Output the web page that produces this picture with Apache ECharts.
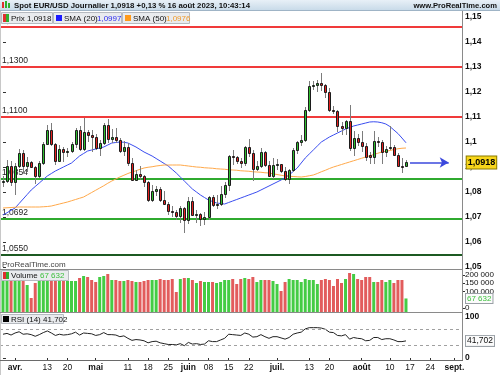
<!DOCTYPE html>
<html><head><meta charset="utf-8">
<script src="https://cdn.jsdelivr.net/npm/echarts@6/dist/echarts.min.js"></script>
<style>html,body{margin:0;padding:0;background:#fff}#c{width:500px;height:375px}</style>
</head><body><div id="c"></div>
<script>
// ---------- DATA ----------
const dates = ['2023-03-29','2023-03-30','2023-03-31','2023-04-03','2023-04-04','2023-04-05','2023-04-06','2023-04-07','2023-04-10','2023-04-11','2023-04-12','2023-04-13','2023-04-14','2023-04-17','2023-04-18','2023-04-19','2023-04-20','2023-04-21','2023-04-24','2023-04-25','2023-04-26','2023-04-27','2023-04-28','2023-05-01','2023-05-02','2023-05-03','2023-05-04','2023-05-05','2023-05-08','2023-05-09','2023-05-10','2023-05-11','2023-05-12','2023-05-15','2023-05-16','2023-05-17','2023-05-18','2023-05-19','2023-05-22','2023-05-23','2023-05-24','2023-05-25','2023-05-26','2023-05-29','2023-05-30','2023-05-31','2023-06-01','2023-06-02','2023-06-05','2023-06-06','2023-06-07','2023-06-08','2023-06-09','2023-06-12','2023-06-13','2023-06-14','2023-06-15','2023-06-16','2023-06-19','2023-06-20','2023-06-21','2023-06-22','2023-06-23','2023-06-26','2023-06-27','2023-06-28','2023-06-29','2023-06-30','2023-07-03','2023-07-04','2023-07-05','2023-07-06','2023-07-07','2023-07-10','2023-07-11','2023-07-12','2023-07-13','2023-07-14','2023-07-17','2023-07-18','2023-07-19','2023-07-20','2023-07-21','2023-07-24','2023-07-25','2023-07-26','2023-07-27','2023-07-28','2023-07-31','2023-08-01','2023-08-02','2023-08-03','2023-08-04','2023-08-07','2023-08-08','2023-08-09','2023-08-10','2023-08-11','2023-08-14','2023-08-15','2023-08-16','2023-08-17','2023-08-18','2023-08-21','2023-08-22','2023-08-23','2023-08-24','2023-08-25','2023-08-28','2023-08-29','2023-08-30','2023-08-31','2023-09-01','2023-09-04','2023-09-05'];

const opens = [1.0842,1.0846,1.0905,1.0839,1.0902,1.0955,1.0906,1.0921,1.0901,1.0862,1.0915,1.0993,1.1047,1.0992,1.0926,1.0973,1.0958,1.0963,1.0992,1.1047,1.0974,1.1040,1.1027,1.1019,1.0975,1.0996,1.1069,1.1014,1.1019,1.1007,1.0962,1.0979,1.0915,1.0850,1.0873,1.0862,1.0839,1.0770,1.0805,1.0812,1.0770,1.0751,1.0725,1.0721,1.0705,1.0737,1.0688,1.0762,1.0709,1.0712,1.0693,1.0698,1.0780,1.0749,1.0752,1.0792,1.0830,1.0944,1.0939,1.0924,1.0917,1.0980,1.0956,1.0894,1.0906,1.0960,1.0910,1.0866,1.0909,1.0911,1.0882,1.0853,1.0887,1.0968,1.0998,1.1010,1.1128,1.1226,1.1229,1.1238,1.1227,1.1200,1.1129,1.1124,1.1064,1.1055,1.1086,1.0975,1.1016,1.0998,1.0985,1.0950,1.0940,1.1005,1.1000,1.0958,1.0978,1.0980,1.0949,1.0906,1.0904];
const closes = [1.0846,1.0905,1.0839,1.0902,1.0955,1.0906,1.0921,1.0901,1.0862,1.0915,1.0993,1.1047,1.0992,1.0926,1.0973,1.0958,1.0963,1.0992,1.1047,1.0974,1.1040,1.1027,1.1019,1.0975,1.0996,1.1069,1.1014,1.1019,1.1007,1.0962,1.0979,1.0915,1.0850,1.0873,1.0862,1.0839,1.0770,1.0805,1.0812,1.0770,1.0751,1.0725,1.0721,1.0705,1.0737,1.0688,1.0762,1.0709,1.0712,1.0693,1.0698,1.0780,1.0749,1.0752,1.0792,1.0830,1.0944,1.0939,1.0924,1.0917,1.0980,1.0956,1.0894,1.0906,1.0960,1.0910,1.0866,1.0909,1.0911,1.0882,1.0853,1.0887,1.0968,1.0998,1.1010,1.1128,1.1226,1.1229,1.1238,1.1227,1.1200,1.1129,1.1124,1.1064,1.1055,1.1086,1.0975,1.1016,1.0998,1.0985,1.0938,1.0940,1.1005,1.1000,1.0958,1.0972,1.0980,1.0949,1.0906,1.0904,1.0918];
const lows = [1.0818,1.0836,1.0826,1.0788,1.0897,1.0877,1.0880,1.0895,1.0831,1.0857,1.0910,1.0990,1.0985,1.0910,1.0920,1.0920,1.0938,1.0955,1.0975,1.0965,1.0965,1.1000,1.0961,1.0967,1.0942,1.0990,1.0995,1.0995,1.0996,1.0957,1.0942,1.0906,1.0845,1.0846,1.0848,1.0820,1.0760,1.0760,1.0785,1.0760,1.0747,1.0708,1.0700,1.0687,1.0675,1.0635,1.0671,1.0705,1.0675,1.0666,1.0668,1.0690,1.0740,1.0732,1.0746,1.0776,1.0804,1.0910,1.0912,1.0897,1.0904,1.0941,1.0844,1.0886,1.0895,1.0898,1.0860,1.0853,1.0887,1.0876,1.0845,1.0833,1.0880,1.0952,1.0985,1.1000,1.1120,1.1210,1.1200,1.1205,1.1178,1.1120,1.1113,1.1040,1.1028,1.1028,1.0962,1.0945,1.0986,1.0960,1.0925,1.0912,1.0912,1.0980,1.0912,1.0940,1.0968,1.0942,1.0900,1.0877,1.0902];
const highs = [1.0866,1.0927,1.0925,1.0916,1.0973,1.0970,1.0940,1.0925,1.0905,1.0925,1.0998,1.1068,1.1075,1.0995,1.0990,1.0980,1.0975,1.1000,1.1055,1.1066,1.1095,1.1050,1.1050,1.1033,1.1010,1.1078,1.1092,1.1054,1.1055,1.1016,1.1005,1.0995,1.0935,1.0888,1.0903,1.0867,1.0845,1.0830,1.0826,1.0820,1.0803,1.0760,1.0744,1.0727,1.0746,1.0740,1.0779,1.0780,1.0728,1.0716,1.0718,1.0785,1.0788,1.0790,1.0823,1.0839,1.0950,1.0970,1.0945,1.0935,1.0985,1.1012,1.0970,1.0925,1.0976,1.0964,1.0925,1.0935,1.0934,1.0914,1.0899,1.0893,1.0976,1.1003,1.1027,1.1140,1.1245,1.1245,1.1249,1.1276,1.1232,1.1215,1.1146,1.1130,1.1079,1.1090,1.1149,1.1042,1.1033,1.1045,1.0995,1.0960,1.1042,1.1020,1.1007,1.0985,1.1065,1.0990,1.0955,1.0935,1.0928];

const volumes = [160000,165000,160000,170000,165000,160000,135000,70000,145000,155000,160000,160000,165000,155000,160000,160000,155000,155000,155000,170000,180000,175000,160000,150000,175000,180000,190000,160000,160000,155000,155000,160000,155000,150000,150000,155000,160000,160000,160000,165000,160000,160000,165000,100000,165000,170000,170000,160000,145000,155000,150000,150000,150000,145000,150000,160000,160000,165000,140000,165000,170000,165000,175000,150000,160000,160000,160000,155000,140000,105000,150000,165000,160000,160000,150000,165000,160000,160000,140000,160000,165000,160000,130000,165000,145000,165000,195000,190000,165000,160000,175000,175000,150000,150000,160000,150000,160000,145000,160000,160000,67632];

const sma20 = [1.0708,1.0717,1.0727,1.0736,1.0754,1.0772,1.0790,1.0808,1.0822,1.0836,1.0850,1.0864,1.0874,1.0884,1.0892,1.0900,1.0908,1.0916,1.0930,1.0944,1.0954,1.0964,1.0968,1.0972,1.0976,1.0980,1.0988,1.0996,1.0998,1.1000,1.0999,1.0996,1.0988,1.0980,1.0970,1.0960,1.0952,1.0944,1.0934,1.0924,1.0914,1.0904,1.0890,1.0876,1.0860,1.0844,1.0828,1.0812,1.0800,1.0788,1.0778,1.0768,1.0762,1.0756,1.0754,1.0752,1.0758,1.0764,1.0770,1.0776,1.0782,1.0788,1.0794,1.0800,1.0808,1.0816,1.0824,1.0832,1.0840,1.0848,1.0858,1.0868,1.0882,1.0896,1.0916,1.0936,1.0952,1.0968,1.0984,1.1000,1.1010,1.1020,1.1028,1.1036,1.1044,1.1052,1.1058,1.1064,1.1068,1.1072,1.1076,1.1080,1.1081,1.1080,1.1077,1.1072,1.1062,1.1048,1.1034,1.1016,1.0997];
const sma50 = [1.0736,1.0737,1.0738,1.0739,1.0740,1.0740,1.0740,1.0740,1.0740,1.0740,1.0741,1.0742,1.0744,1.0748,1.0752,1.0756,1.0760,1.0765,1.0770,1.0775,1.0780,1.0789,1.0798,1.0807,1.0816,1.0825,1.0835,1.0844,1.0852,1.0860,1.0867,1.0874,1.0880,1.0885,1.0891,1.0896,1.0899,1.0901,1.0904,1.0906,1.0908,1.0908,1.0908,1.0908,1.0908,1.0906,1.0904,1.0902,1.0900,1.0899,1.0897,1.0896,1.0895,1.0893,1.0892,1.0891,1.0889,1.0888,1.0887,1.0885,1.0884,1.0883,1.0881,1.0880,1.0879,1.0877,1.0876,1.0873,1.0870,1.0867,1.0864,1.0863,1.0862,1.0861,1.0860,1.0862,1.0865,1.0868,1.0874,1.0881,1.0887,1.0894,1.0900,1.0905,1.0910,1.0915,1.0920,1.0925,1.0930,1.0935,1.0940,1.0945,1.0950,1.0955,1.0960,1.0963,1.0966,1.0970,1.0973,1.0975,1.0976];
const rsi = [58,60,56,61,64,58,59,57,53,57,62,66,61,55,58,56,57,59,63,56,61,60,59,55,57,62,57,57,56,52,54,48,43,45,44,42,37,40,41,37,35,33,33,32,35,30,38,34,35,33,34,42,40,40,44,48,58,57,56,55,61,58,51,52,57,52,48,52,52,49,46,50,58,61,63,71,74,74,74,73,70,63,62,55,54,57,46,50,48,47,42,43,50,50,45,47,47,44,40,40,41.702];

const priceTicks = [1.05,1.06,1.07,1.08,1.09,1.10,1.11,1.12,1.13,1.14,1.15];
const volumeTicks = [0,100000,150000,200000];
const rsiTicks = [0,100];
const rsiLevels = [30,70];
const levelValues = [1.1460,1.1300,1.1100,1.0854,1.0692,1.0550];
const levelLabels = ['1,1460','1,1300','1,1100','1,0854','1,0692','1,0550'];
const tickDates = ['2023-04-03','2023-04-13','2023-04-20','2023-05-01','2023-05-11','2023-05-18','2023-05-25','2023-06-01','2023-06-08','2023-06-15','2023-06-22','2023-07-03','2023-07-13','2023-07-20','2023-08-01','2023-08-10','2023-08-17','2023-08-24','2023-09-01'];
const tickLabels = ['avr.','13','20','mai','11','18','25','juin','08','15','22','juil.','13','20','août','10','17','24','sept.'];
const monthNames = ['avr.','mai','juin','juil.','août','sept.'];
const lastPrice = 1.0918, lastSma20 = 1.0997, lastSma50 = 1.0976, lastVolume = 67632, lastRsi = 41.702;
const arrowFrom = '2023-08-17', arrowTo = '2023-08-30';

// ---------- BUILD ----------
const FONT = '"Liberation Sans", Arial, sans-serif';
const levelColors = ['#f03a3a','#f03a3a','#f03a3a','#2faa2f','#2faa2f','#1c5a22'];
const idxOf = d => dates.indexOf(d);
const candleData = closes.map((c, i) => [i, opens[i], c, lows[i], highs[i]]);
const xMin = -0.744, xMax = 113.9;
const tickIdx = tickDates.map(idxOf);

const volData = volumes.map((v, i) => ({
  value: [i, v],
  itemStyle: { color: closes[i] >= opens[i] ? '#44cc44' : '#e25c5c' }
}));

const fmtPrice = v => { let s = v.toFixed(2); if (s.endsWith('0')) s = s.slice(0, -1); return s.replace('.', ','); };
const fmtPrice4 = v => v.toFixed(4).replace('.', ',');
const fmtVol = v => Math.round(v) === 0 ? '0' : String(Math.round(v)).replace(/\B(?=(\d{3})+(?!\d))/g, ' ');
const HIDE = { color: 'rgba(0,0,0,0)', width: 0 };

function xAx(gi, show) {
  const a = { type: 'value', gridIndex: gi, min: xMin, max: xMax, show: !!show, splitLine: { show: false },
    axisLine: { show: false }, axisTick: { show: false }, axisLabel: { show: false } };
  if (show) {
    a.offset = 2;
    a.axisTick = { show: true, customValues: tickIdx, length: 3, lineStyle: { color: '#333' } };
    a.axisLabel = { show: true, customValues: tickIdx, margin: 3, fontSize: 8.5, color: '#111', fontFamily: FONT,
      formatter: v => { const k = tickIdx.indexOf(Math.round(v)); const t = tickLabels[k] || ''; return monthNames.includes(t) ? '{m|' + t + '}' : t; },
      rich: { m: { fontWeight: 'bold', fontSize: 8.5, color: '#111', fontFamily: FONT } } };
  }
  return a;
}

const option = {
  animation: false,
  backgroundColor: '#ffffff',
  grid: [
    { left: 0, right: 38, top: 10, height: 259 },
    { left: 0, right: 38, top: 269, height: 43 },
    { left: 0, right: 38, top: 317, height: 41 }
  ],
  xAxis: [xAx(0, false), xAx(1, false), xAx(2, true)],
  yAxis: [
    { type: 'value', gridIndex: 0, position: 'right', min: 1.0492, max: 1.1528, splitLine: { show: false },
      axisLine: { show: false },
      axisTick: { show: true, customValues: priceTicks, length: 3, lineStyle: { color: '#333' } },
      axisLabel: { customValues: priceTicks, formatter: fmtPrice, fontSize: 8.5, fontWeight: 'bold', color: '#111', margin: 3, fontFamily: FONT } },
    { type: 'value', gridIndex: 1, position: 'right', min: 0, max: 215000, show: false },
    { type: 'value', gridIndex: 2, position: 'right', min: 0, max: 100, splitLine: { show: false },
      axisLine: { show: false },
      axisTick: { show: true, customValues: rsiTicks, length: 3, lineStyle: { color: '#333' } },
      axisLabel: { customValues: rsiTicks, fontSize: 8.5, fontWeight: 'bold', color: '#111', margin: 3, fontFamily: FONT } },
    { type: 'value', gridIndex: 1, position: 'right', min: -24242, max: 236364, splitLine: { show: false },
      axisLine: { show: false },
      axisTick: { show: true, customValues: volumeTicks.map(v => v || 0.001), length: 3, lineStyle: { color: '#333' } },
      axisLabel: { customValues: volumeTicks.map(v => v || 0.001), formatter: fmtVol, fontSize: 8, color: '#111', margin: 3, fontFamily: FONT, hideOverlap: false } }
  ],
  series: [
    { type: 'custom', xAxisIndex: 0, yAxisIndex: 0, data: levelValues.map((v, k) => [0, v, k]), clip: false, z: 1, silent: true,
      renderItem: function (params, api) {
        const k = api.value(2), cs = params.coordSys;
        const yr = Math.round(api.coord([0, api.value(1)])[1]);
        const h = 2;
        return { type: 'group', children: [
          { type: 'rect', shape: { x: cs.x, y: yr - 1, width: cs.width, height: h }, style: { fill: levelColors[k], stroke: null, lineWidth: 0 } },
          { type: 'text', x: cs.x + 2, y: yr - 2, style: { text: levelLabels[k], font: '8.5px ' + FONT, fill: '#222', textVerticalAlign: 'bottom', verticalAlign: 'bottom' } }
        ] };
      } },
    { type: 'custom', xAxisIndex: 0, yAxisIndex: 0, data: candleData, clip: true, z: 3, silent: true,
      renderItem: function (params, api) {
        const i = api.value(0), o = api.value(1), c = api.value(2), l = api.value(3), h = api.value(4);
        const pO = api.coord([i, o]), pC = api.coord([i, c]), pL = api.coord([i, l]), pH = api.coord([i, h]);
        const cx = Math.round(pO[0]);
        const top = Math.round(Math.min(pO[1], pC[1])), bot = Math.round(Math.max(pO[1], pC[1]));
        const up = c >= o;
        return { type: 'group', children: [
          { type: 'line', shape: { x1: cx + 0.5, y1: Math.round(pH[1]), x2: cx + 0.5, y2: Math.round(pL[1]) }, style: { stroke: '#7c7c7c', lineWidth: 1 } },
          { type: 'rect', shape: { x: cx - 0.5, y: top + 0.5, width: 2, height: Math.max(bot - top, 1) }, style: { fill: up ? '#2fbd2f' : '#e42020', stroke: '#1c1c1c', lineWidth: 1 } }
        ] };
      } },
    { type: 'line', xAxisIndex: 0, yAxisIndex: 0, data: sma20.map((v, i) => [i, v]), symbol: 'none', silent: true, z: 2,
      lineStyle: { color: '#3a4df0', width: 1 } },
    { type: 'line', xAxisIndex: 0, yAxisIndex: 0, data: sma50.map((v, i) => [i, v]), symbol: 'none', silent: true, z: 2,
      lineStyle: { color: '#ffa94a', width: 1 },
      markLine: { silent: true, animation: false, symbol: ['none', 'arrow'], symbolSize: [8, 9], precision: 4,
        lineStyle: { color: '#3b48dd', width: 1.5, type: 'solid' },
        label: { show: true, position: 'end', distance: 18, formatter: fmtPrice4(lastPrice), fontSize: 9, fontWeight: 'bold',
          color: '#000', backgroundColor: '#f7d51b', borderColor: '#8a7a00', borderWidth: 1, padding: [2, 1, 1, 1], fontFamily: FONT },
        data: [[ { coord: [idxOf(arrowFrom), lastPrice] }, { coord: [idxOf(arrowTo) + 0.6, lastPrice] } ]] } },
    { type: 'bar', xAxisIndex: 1, yAxisIndex: 1, data: volData, barWidth: 3, silent: true,
      markLine: { silent: true, symbol: 'none', animation: false, precision: 0, lineStyle: HIDE,
        label: { show: true, position: 'end', distance: 4, formatter: fmtVol(lastVolume),
          color: '#3cbf3c', fontSize: 8, backgroundColor: '#fbfbfb', borderColor: '#9aa0a6', borderWidth: 1, padding: [1, 1, 0, 1], fontFamily: FONT },
        data: [{ yAxis: lastVolume }] } },
    { type: 'line', xAxisIndex: 2, yAxisIndex: 2, data: rsi.map((v, i) => [i, v]), symbol: 'none', silent: true,
      lineStyle: { color: '#222', width: 1 },
      markLine: { silent: true, symbol: 'none', animation: false, precision: 3,
        lineStyle: { color: '#a0a0a0', width: 1, type: [3, 3] }, label: { show: false },
        data: rsiLevels.map(v => ({ yAxis: v })) } },
    { type: 'line', xAxisIndex: 2, yAxisIndex: 2, data: [], symbol: 'none', silent: true, lineStyle: { width: 0 },
      markLine: { silent: true, symbol: 'none', animation: false, precision: 3, lineStyle: HIDE,
        label: { show: true, position: 'end', distance: 4, formatter: String(lastRsi).replace('.', ','), color: '#111', fontSize: 8.5,
          backgroundColor: '#fbfbfb', borderColor: '#9aa0a6', borderWidth: 1, padding: [1, 1, 0, 1], fontFamily: FONT },
        data: [{ yAxis: lastRsi }] } }
  ],
  graphic: [
    { type: 'rect', shape: { x: 0, y: 0, width: 500, height: 10 }, z: 50,
      style: { fill: new echarts.graphic.LinearGradient(0, 0, 0, 1, [{ offset: 0, color: '#e8f0f7' }, { offset: 1, color: '#c9dbe9' }]) } },
    { type: 'rect', shape: { x: 0, y: 10, width: 500, height: 1 }, style: { fill: '#9fb4c6' }, z: 50 },
    { type: 'rect', shape: { x: 2, y: 2, width: 2, height: 6 }, style: { fill: '#e03030' }, z: 51 },
    { type: 'rect', shape: { x: 5, y: 1, width: 2, height: 7 }, style: { fill: '#30b030' }, z: 51 },
    { type: 'rect', shape: { x: 8, y: 3, width: 2, height: 5 }, style: { fill: '#30b030' }, z: 51 },
    { type: 'text', x: 14, y: 5.5, z: 51, style: { text: 'Spot EUR/USD Journalier 1,0918 +0,13 % 16 août 2023, 10:43:14', font: 'bold 7.8px ' + FONT, fill: '#111', textVerticalAlign: 'middle', verticalAlign: 'middle' } },
    { type: 'text', x: 497, y: 5.5, z: 51, style: { text: 'www.ProRealTime.com', font: 'bold 7.6px ' + FONT, fill: '#111', textAlign: 'right', align: 'right', textVerticalAlign: 'middle', verticalAlign: 'middle' } },
    { type: 'rect', shape: { x: 462, y: 10, width: 1, height: 351 }, style: { fill: '#8a8a8a' }, z: 40 },
    { type: 'rect', shape: { x: 0, y: 10, width: 1, height: 365 }, style: { fill: '#c8c8c8' }, z: 40 },
    { type: 'rect', shape: { x: 0, y: 269, width: 463, height: 1 }, style: { fill: '#8a8a8a' }, z: 40 },
    { type: 'rect', shape: { x: 0, y: 312, width: 463, height: 1 }, style: { fill: '#8a8a8a' }, z: 40 },
    { type: 'rect', shape: { x: 0, y: 360, width: 463, height: 1 }, style: { fill: '#6a6a6a' }, z: 40 },
    { type: 'rect', shape: { x: 1.5, y: 12.5, width: 51, height: 11 }, style: { fill: '#e9ebee', stroke: '#b6bac0', lineWidth: 1 }, z: 60 },
    { type: 'rect', shape: { x: 3, y: 14, width: 3, height: 8 }, style: { fill: '#e03030' }, z: 61 },
    { type: 'rect', shape: { x: 6, y: 14, width: 3, height: 8 }, style: { fill: '#30b030' }, z: 61 },
    { type: 'text', x: 11, y: 18.5, z: 61, style: { text: 'Prix 1,0918', font: '8px ' + FONT, fill: '#111', textVerticalAlign: 'middle', verticalAlign: 'middle' } },
    { type: 'rect', shape: { x: 53.5, y: 12.5, width: 68, height: 11 }, style: { fill: '#e9ebee', stroke: '#b6bac0', lineWidth: 1 }, z: 60 },
    { type: 'rect', shape: { x: 56, y: 15, width: 6, height: 6 }, style: { fill: '#1a1aff' }, z: 61 },
    { type: 'text', x: 64, y: 18.5, z: 61, style: { text: 'SMA (20)', font: '8px ' + FONT, fill: '#111', textVerticalAlign: 'middle', verticalAlign: 'middle' } },
    { type: 'text', x: 97, y: 18.5, z: 61, style: { text: '1,0997', font: '8px ' + FONT, fill: '#2a2aee', textVerticalAlign: 'middle', verticalAlign: 'middle' } },
    { type: 'rect', shape: { x: 122.5, y: 12.5, width: 67, height: 11 }, style: { fill: '#e9ebee', stroke: '#b6bac0', lineWidth: 1 }, z: 60 },
    { type: 'rect', shape: { x: 125, y: 15, width: 6, height: 6 }, style: { fill: '#ff9a1a' }, z: 61 },
    { type: 'text', x: 133, y: 18.5, z: 61, style: { text: 'SMA (50)', font: '8px ' + FONT, fill: '#111', textVerticalAlign: 'middle', verticalAlign: 'middle' } },
    { type: 'text', x: 166, y: 18.5, z: 61, style: { text: '1,0976', font: '8px ' + FONT, fill: '#f09a2a', textVerticalAlign: 'middle', verticalAlign: 'middle' } },
    { type: 'text', x: 2, y: 264.5, z: 61, style: { text: 'ProRealTime.com', font: '8px ' + FONT, fill: '#444', textVerticalAlign: 'middle', verticalAlign: 'middle' } },
    { type: 'rect', shape: { x: 1.5, y: 270.5, width: 67, height: 10 }, style: { fill: '#e9ebee', stroke: '#b6bac0', lineWidth: 1 }, z: 60 },
    { type: 'rect', shape: { x: 3, y: 272, width: 3, height: 7 }, style: { fill: '#e03030' }, z: 61 },
    { type: 'rect', shape: { x: 6, y: 272, width: 3, height: 7 }, style: { fill: '#30b030' }, z: 61 },
    { type: 'text', x: 11, y: 276, z: 61, style: { text: 'Volume', font: '8px ' + FONT, fill: '#111', textVerticalAlign: 'middle', verticalAlign: 'middle' } },
    { type: 'text', x: 40, y: 276, z: 61, style: { text: '67 632', font: '8px ' + FONT, fill: '#3cbf3c', textVerticalAlign: 'middle', verticalAlign: 'middle' } },
    { type: 'rect', shape: { x: 1.5, y: 314.5, width: 62, height: 9 }, style: { fill: '#e9ebee', stroke: '#b6bac0', lineWidth: 1 }, z: 60 },
    { type: 'rect', shape: { x: 3, y: 316, width: 6, height: 6 }, style: { fill: '#000' }, z: 61 },
    { type: 'text', x: 11, y: 319.5, z: 61, style: { text: 'RSI (14) 41,702', font: '8px ' + FONT, fill: '#111', textVerticalAlign: 'middle', verticalAlign: 'middle' } }
  ]
};

const chart = echarts.init(document.getElementById('c'), null, { renderer: 'canvas' });
chart.setOption(option);
</script></body></html>
